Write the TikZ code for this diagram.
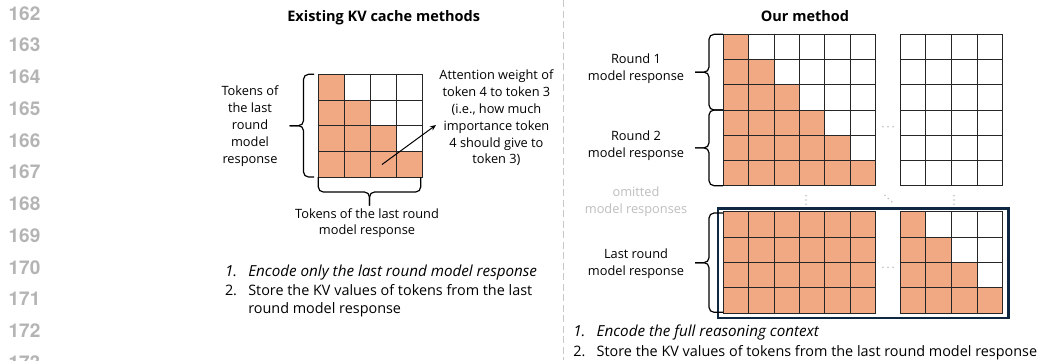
\documentclass[tikz,border=0pt]{standalone}
\usepackage{fontspec}
\setmainfont{Open Sans}
\newfontfamily\linenumfont{TeX Gyre Heros}
\usetikzlibrary{arrows.meta}

\definecolor{kvorange}{HTML}{F1A983}
\definecolor{kvnavy}{HTML}{0E2841}
\definecolor{softgray}{HTML}{BFBFBF}
\definecolor{numgray}{HTML}{B4B4B4}
\definecolor{rulegray}{HTML}{C8C8C8}
\definecolor{cellline}{HTML}{262626}

% token attention grid: x0, y0, columns, rows, cell width, cell height,
% mode (0 = causal lower triangle, 1 = all filled, 2 = empty)
\newcommand\kvgrid[7]{%
  \foreach \kvr in {1,...,#4} {\foreach \kvc in {1,...,#3} {
    \pgfmathtruncatemacro\kvon{#7==1 ? 1 : (#7==0 ? (\kvc<=\kvr ? 1 : 0) : 0)}
    \ifnum\kvon=1 \fill[kvfill] ({#1+(\kvc-1)*#5},{#2+(\kvr-1)*#6}) rectangle ++(#5,#6);\fi
  }}
  \foreach \kvr in {1,...,#4} {\foreach \kvc in {1,...,#3} {
    \draw[kvcell] ({#1+(\kvc-1)*#5},{#2+(\kvr-1)*#6}) rectangle ++(#5,#6);
  }}
}

% left curly brace: end x, spine x, tip x, top y, bottom y
\newcommand\bracev[5]{%
  \draw[bracepath] (#1,#4) -- (#2,#4) -- (#2,{(#4+#5)/2}) -- (#3,{(#4+#5)/2});
  \draw[bracepath] (#1,#5) -- (#2,#5) -- (#2,{(#4+#5)/2}) -- (#3,{(#4+#5)/2});
}

\begin{document}
\begin{tikzpicture}[x=1pt,y=-1pt,
  every node/.style={inner sep=0pt,outer sep=0pt},
  kvfill/.style={fill=kvorange},
  kvcell/.style={draw=cellline,line width=0.9pt},
  bracepath/.style={draw=black,line width=1.2pt,rounded corners=5pt},
  linenum/.style={text=numgray,font=\linenumfont\bfseries\fontsize{19}{20}\selectfont},
  paneltitle/.style={font=\fontsize{14.5}{17}\selectfont\bfseries},
  lbl/.style={align=center,font=\fontsize{12.8}{16.8}\selectfont},
  lblgray/.style={lbl,text=softgray},
  listtxt/.style={anchor=base west,font=\fontsize{14.4}{18.3}\selectfont},
  listital/.style={anchor=base west,font=\fontsize{15.2}{18.3}\selectfont\itshape},
  divider/.style={draw=rulegray,line width=1pt,dash pattern=on 7pt off 3.5pt},
  ctxbox/.style={draw=kvnavy,line width=2.6pt},
  dotmark/.style={fill=softgray},
  attnarrow/.style={draw=black,line width=1pt,-{Stealth[length=6pt,width=5pt]}}]

\useasboundingbox (0,0) rectangle (1041,360);
\fill[white] (0,0) rectangle (1041,360);
\clip (0,0) rectangle (1041,360);

% margin line numbers
\foreach \k in {0,...,11} {
  \pgfmathtruncatemacro\lnum{162+\k}
  \node[linenum] (ln\lnum) at (24.5,{13.3+31.75*\k}) {\lnum};
}

% column divider
\coordinate (divTop) at (563.3,0);
\coordinate (divBot) at (563.3,360);
\draw[divider] (divTop) -- (divBot);

% ---------- existing KV cache methods ----------
\node[paneltitle] (ttlLeft) at (383.7,17.5) {Existing KV cache methods};

\kvgrid{318.3}{74.3}{4}{4}{26}{25.7}{0}

\bracev{314}{303.5}{289.5}{74.3}{177}
\node[lbl,font=\fontsize{12.8}{17}\selectfont] (rowsLeft) at (250,126) {Tokens of\\the last\\round\\model\\response};

\draw[bracepath] (318.3,177) -- (318.3,192) -- (369.5,192) -- (369.5,205.7);
\draw[bracepath] (420.7,177) -- (420.7,192) -- (369.5,192) -- (369.5,205.7);
\node[lbl,font=\fontsize{12.8}{16}\selectfont] (colsLeft) at (367,223) {Tokens of the last round\\model response};

\node[lbl] (attnNote) at (496.4,118) {Attention weight of\\token 4 to token 3\\(i.e., how much\\importance token\\4 should give to\\token 3)};
\coordinate (attnCell) at (382,164.5);
\coordinate (attnTip) at (436,125);
\draw[attnarrow] (attnCell) -- (attnTip);

\node[listital] (lNum1) at (225,276.9) {1.};
\node[listital] (lItem1) at (248.3,276.9) {Encode only the last round model response};
\node[listtxt] (lNum2) at (225,295.2) {2.};
\node[listtxt] (lItem2a) at (248.3,295.2) {Store the KV values of tokens from the last};
\node[listtxt] (lItem2b) at (248.3,313.5) {round model response};

% ---------- our method ----------
\node[paneltitle] (ttlRight) at (805,16.5) {Our method};

\kvgrid{723.3}{34.3}{6}{6}{25.4}{25.23}{0}
\kvgrid{900.3}{34.3}{4}{6}{25.6}{25.23}{2}
\kvgrid{723.3}{211.7}{6}{4}{25.4}{25.4}{1}
\kvgrid{900.3}{211.7}{4}{4}{25.6}{25.4}{0}

\draw[ctxbox] (718,208.3) rectangle (1008.5,318);

% elided columns and rows
\foreach \yy in {126.7,267.3} {
  \foreach \xx in {883,888,893} { \fill[dotmark] (\xx,\yy) circle (0.9); }
}
\foreach \xx in {806,954} {
  \foreach \yy in {195.7,200,204.3} { \fill[dotmark] (\xx,\yy) circle (0.9); }
}
\foreach \xx/\yy in {885/195.3,888.3/198.5,891.7/201.7} { \fill[dotmark] (\xx,\yy) circle (0.9); }

\bracev{723}{709}{695}{34.3}{110}
\bracev{723}{709}{695}{110}{185.7}
\bracev{723}{709}{695}{213}{312.3}

\node[lbl] (round1) at (636,69) {Round 1\\model response};
\node[lbl] (round2) at (636,145.4) {Round 2\\model response};
\node[lblgray] (omitted) at (636,202) {omitted\\model responses};
\node[lbl] (lastRound) at (636,263.7) {Last round\\model response};

\node[listital] (rNum1) at (573.3,336.9) {1.};
\node[listital] (rItem1) at (596.7,336.9) {Encode the full reasoning context};
\node[listtxt] (rNum2) at (573.3,356.2) {2.};
\node[listtxt] (rItem2) at (596.7,356.2) {Store the KV values of tokens from the last round model response};

\end{tikzpicture}
\end{document}
